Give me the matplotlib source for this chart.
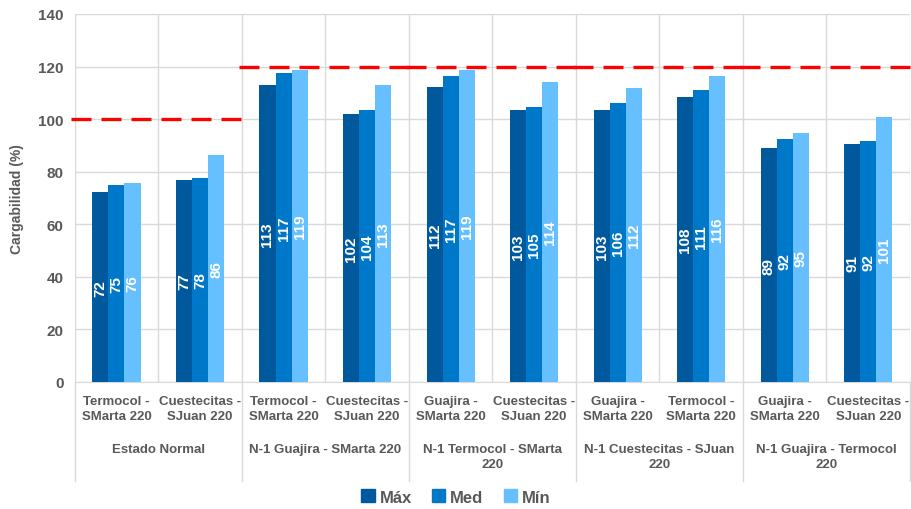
import numpy as np
import matplotlib.pyplot as plt
from matplotlib.lines import Line2D
from matplotlib.patches import Patch
import matplotlib.transforms as mtransforms

plt.rcParams['font.family'] = ['Liberation Sans', 'DejaVu Sans']
plt.rcParams['font.weight'] = 'bold'

lineas = ['Termocol -\nSMarta 220', 'Cuestecitas -\nSJuan 220',
          'Termocol -\nSMarta 220', 'Cuestecitas -\nSJuan 220',
          'Guajira -\nSMarta 220', 'Cuestecitas -\nSJuan 220',
          'Guajira -\nSMarta 220', 'Termocol -\nSMarta 220',
          'Guajira -\nSMarta 220', 'Cuestecitas -\nSJuan 220']
escenarios = ['Estado Normal', 'N-1 Guajira - SMarta 220',
              'N-1 Termocol - SMarta\n220', 'N-1 Cuestecitas - SJuan\n220',
              'N-1 Guajira - Termocol\n220']
limites = [100, 120, 120, 120, 120]

maximo = [72.2, 77.0, 112.9, 101.9, 112.2, 103.4, 103.4, 108.4, 89.0, 90.7]
medio = [74.9, 77.6, 117.4, 103.6, 116.6, 104.6, 106.1, 111.0, 92.4, 91.6]
minimo = [75.6, 86.3, 118.6, 112.9, 118.6, 114.1, 111.8, 116.3, 94.7, 100.8]
series = ['Máx', 'Med', 'Mín']
colores = ['#00599C', '#0078CA', '#66BFFF']

gris = '#595959'
grid = '#D9D9D9'

fig = plt.figure(figsize=(9.12, 5.10), dpi=100)
ax = fig.add_axes([74.7 / 912, 1 - 383 / 510, (910 - 74.7) / 912, 368 / 510])

x = np.arange(len(lineas)) + 0.5
w = 0.192
for i, (vals, c) in enumerate(zip([maximo, medio, minimo], colores)):
    bars = ax.bar(x + (i - 1) * w, vals, w, color=c, zorder=3)
    ax.bar_label(bars, fmt='%.0f', label_type='center', rotation=90,
                 color='white', fontsize=11, fontweight='bold', zorder=4)

# límites de cargabilidad por escenario
for g, lim in enumerate(limites):
    x0 = 2 * g - (0.05 if g == 0 else 0.03)
    x1 = 2 * g + 2 + (0.05 if g == 0 else 0.0)
    ax.plot([x0, x1], [lim, lim], color='#FF0000', lw=2.4,
            dashes=(6, 3), zorder=5, clip_on=False)

ax.set_xlim(0, len(lineas))
ax.set_ylim(0, 140)
ax.set_yticks(range(0, 141, 20))
ax.set_yticklabels([str(v) for v in range(0, 141, 20)], fontweight='bold')
ax.set_xticks(range(0, len(lineas) + 1))
ax.set_xticklabels([])
ax.grid(True, color=grid, lw=1, zorder=0)
ax.tick_params(axis='y', length=0, labelsize=11, labelcolor=gris, pad=8)
ax.tick_params(axis='x', length=0)
for s in ['top', 'right', 'left']:
    ax.spines[s].set_visible(False)
ax.spines['bottom'].set_color(grid)
ax.set_ylabel('Cargabilidad (%)', fontsize=10, color=gris, labelpad=10,
              fontweight='bold')

trans = mtransforms.blended_transform_factory(ax.transData, ax.transAxes)
for xi, lab in zip(x, lineas):
    ax.text(xi, -0.035, lab, transform=trans, ha='center', va='top',
            fontsize=9.5, color=gris, linespacing=1.35, fontweight='bold')
for g, lab in enumerate(escenarios):
    ax.text(2 * g + 1, -0.165, lab, transform=trans, ha='center', va='top',
            fontsize=9.5, color=gris, linespacing=1.35, fontweight='bold')
for k in range(0, len(lineas) + 1, 2):
    ax.add_line(Line2D([k, k], [0, -0.27], transform=trans, color=grid,
                       lw=1, clip_on=False))

handles = [Patch(color=c) for c in colores]
leg = fig.legend(handles, series, loc='center',
                 bbox_to_anchor=(0.5, 1 - 498 / 510), ncol=3, frameon=False,
                 fontsize=12, handlelength=0.8, handleheight=0.8,
                 handletextpad=0.3, columnspacing=1.2, labelcolor=gris)
for t in leg.get_texts():
    t.set_fontweight('bold')

fig.savefig('out.png', dpi=100)
